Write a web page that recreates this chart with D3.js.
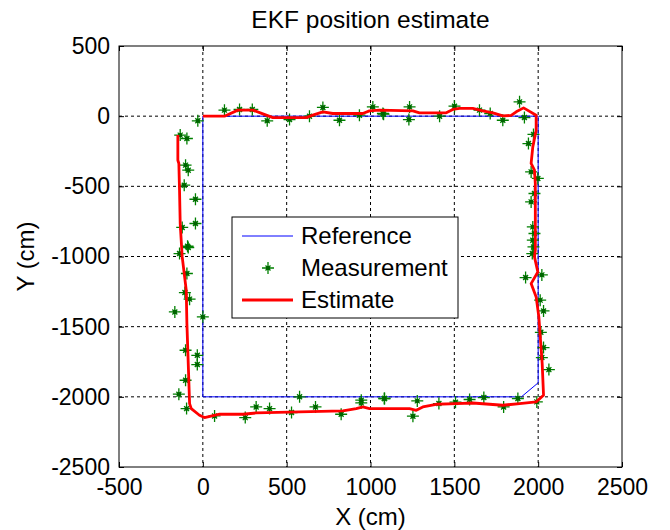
<!DOCTYPE html>
<html>
<head>
<meta charset="utf-8">
<script src="https://cdn.jsdelivr.net/npm/d3@7"></script>
<style>
  body { margin: 0; background: #fff; }
  text { font-family: Arial, "Liberation Sans", sans-serif; fill: #000; }
</style>
</head>
<body>
<script>
var width = 670, height = 530
var margin = {left: 119, right: 48, top: 46, bottom: 63}

var xTicks = [-500, 0, 500, 1000, 1500, 2000, 2500]
var yTicks = [500, 0, -500, -1000, -1500, -2000, -2500]

// reference track
var refX = [0, 2000, 2000, 1900, 0, 0]
var refY = [0, 0, -1900, -2000, -2000, 0]

// EKF estimate
var estX = [0, 129, 209, 298, 378, 418, 617, 656, 716, 775, 954, 994, 1054, 1253, 1292, 1452, 1491, 1531, 1610, 1670, 1730, 1789, 1839, 1869, 1913, 1988,
  1988, 1968, 1958, 1978, 1983, 1983, 1978, 1998, 1958, 1988, 2004, 2014, 2024, 2032,
  1988, 1889, 1789, 1710, 1610, 1511, 1392, 1312, 1273, 1233, 1054, 994, 954, 915, 835, 318, 239, 100, 10, -20, -69, -79,
  -85, -95, -99, -123, -129, -135, -139, -143, -149, -149]
var estY = [0, 0, 43, 43, 7, -10, -10, 7, 31, 19, 19, 38, 43, 38, 24, 24, 48, 55, 55, 38, 24, 2, 5, 31, 59, 7,
  -100, -219, -337, -385, -480, -955, -1003, -1110, -1193, -1288, -1430, -1597, -1763, -1989,
  -2036, -2048, -2060, -2053, -2044, -2048, -2053, -2072, -2096, -2084, -2084, -2084, -2072, -2084, -2100, -2115, -2124, -2124, -2148, -2131, -2084, -2048,
  -1834, -1478, -1240, -1003, -884, -765, -527, -337, -314, -135]

// measurements
var measX = [-30, 129, 219, 295, 384, 517, 636, 716, 815, 934, 1014, 1078,
  1074, 1233, 1229, 1412, 1501, 1650, 1714, 1789, 1889, 1918,
  1972, 1942, 1958, 1998, 1978, 1958, 1968, 1978, 1968, 1972, 1965, 2022, 1925, 2012, 2032, 2016, 2032, 2022, 2064,
  1992, 1879, 1794, 1676, 1591, 1507, 1408, 1253, 1279, 1084, 1082, 945, 945, 825, 672, 577, 529, 398, 318, 253, 70,
  -97, -143, -103, -33, -33, -103, 0, -167, -79, -107, -95, -139, -87,
  -91, -123, -44, -44, -111, -87, -103, -95, -135]
var measY = [-33, 43, 48, 48, -33, -24, 0, 62, -29, 7, 66, 14,
  19, 66, -24, 0, 71, 43, 19, -29, 102, -10,
  -130, -195, -397, -444, -551, -611, -789, -836, -884, -932, -979, -1131, -1150, -1311, -1388, -1540, -1649, -1720, -1806,
  -2036, -2012, -2072, -2005, -2019, -2038, -2048, -2138, -2029, -2012, -2012, -2043, -2024, -2124, -2072, -2000, -2112, -2084, -2072, -2148, -2136,
  -2084, -1981, -1882, -1770, -1704, -1668, -1430, -1395, -1304, -1257, -1121, -979, -936,
  -927, -793, -765, -592, -492, -385, -349, -159, -135]

var x = d3.scaleLinear().domain([-500, 2500]).range([margin.left, width - margin.right])
var y = d3.scaleLinear().domain([-2500, 500]).range([height - margin.bottom, margin.top])

var svg = d3.select("body").append("svg")
  .attr("width", width)
  .attr("height", height)

var x0 = x.range()[0], x1 = x.range()[1]
var y0 = y.range()[1], y1 = y.range()[0]
var fmt = function(d) { return String(d) }

// grid
var grid = svg.append("g")
grid.selectAll(".gx").data(xTicks.slice(1, -1)).enter().append("line")
  .attr("x1", function(d) { return x(d) }).attr("x2", function(d) { return x(d) })
  .attr("y1", y0).attr("y2", y1)
  .attr("stroke", "#000").attr("stroke-width", 1).attr("stroke-dasharray", "3,3")
grid.selectAll(".gy").data(yTicks.slice(1, -1)).enter().append("line")
  .attr("y1", function(d) { return y(d) }).attr("y2", function(d) { return y(d) })
  .attr("x1", x0).attr("x2", x1)
  .attr("stroke", "#000").attr("stroke-width", 1).attr("stroke-dasharray", "3,3")

// axes (ticks inward, box on all sides)
var tl = 5
svg.append("g").attr("transform", "translate(0," + y1 + ")")
  .call(d3.axisBottom(x).tickValues(xTicks).tickFormat(fmt).tickSizeInner(-tl).tickSizeOuter(0).tickPadding(12))
svg.append("g").attr("transform", "translate(0," + y0 + ")")
  .call(d3.axisTop(x).tickValues(xTicks).tickSizeInner(-tl).tickSizeOuter(0).tickFormat(""))
svg.append("g").attr("transform", "translate(" + x0 + ",0)")
  .call(d3.axisLeft(y).tickValues(yTicks).tickFormat(fmt).tickSizeInner(-tl).tickSizeOuter(0).tickPadding(9))
svg.append("g").attr("transform", "translate(" + x1 + ",0)")
  .call(d3.axisRight(y).tickValues(yTicks).tickSizeInner(-tl).tickSizeOuter(0).tickFormat(""))
svg.selectAll(".domain").remove()
svg.selectAll(".tick line").attr("stroke", "#000")
svg.selectAll(".tick text").style("font-size", "23px").style("font-family", "Arial, 'Liberation Sans', sans-serif").attr("fill", "#000")

svg.append("rect")
  .attr("x", x0).attr("y", y0).attr("width", x1 - x0).attr("height", y1 - y0)
  .attr("fill", "none").attr("stroke", "#000").attr("stroke-width", 1)

var line = d3.line().x(function(d) { return x(d[0]) }).y(function(d) { return y(d[1]) })

svg.append("path")
  .datum(refX.map(function(v, i) { return [v, refY[i]] }))
  .attr("d", line).attr("fill", "none").attr("stroke", "#0000ff").attr("stroke-width", 1)

var star = "M-6,0H6M0,-6V6M-2.5,-2.5L2.5,2.5M-2.5,2.5L2.5,-2.5"
var drawStar = function(g) {
  g.append("path").attr("d", star).attr("fill", "none").attr("stroke", "#008000").attr("stroke-width", 1.3)
  g.append("circle").attr("r", 2.2).attr("fill", "#006400")
}
svg.append("g").selectAll("g")
  .data(measX.map(function(v, i) { return [v, measY[i]] }))
  .enter().append("g")
  .attr("transform", function(d) { return "translate(" + x(d[0]) + "," + y(d[1]) + ")" })
  .each(function() { drawStar(d3.select(this)) })

svg.append("path")
  .datum(estX.map(function(v, i) { return [v, estY[i]] }))
  .attr("d", line).attr("fill", "none").attr("stroke", "#ff0000").attr("stroke-width", 2.8)
  .attr("stroke-linejoin", "round")

// legend
var lg = svg.append("g")
lg.append("rect").attr("x", 232).attr("y", 217).attr("width", 226).attr("height", 101)
  .attr("fill", "#fff").attr("stroke", "#000").attr("stroke-width", 1)
var items = [{name: "Reference", type: "ref"}, {name: "Measurement", type: "meas"}, {name: "Estimate", type: "est"}]
items.forEach(function(it, i) {
  var cy = 236 + i * 32
  if (it.type == "ref") lg.append("line").attr("x1", 242).attr("x2", 293).attr("y1", cy).attr("y2", cy).attr("stroke", "#0000ff").attr("stroke-width", 1)
  if (it.type == "est") lg.append("line").attr("x1", 242).attr("x2", 293).attr("y1", cy).attr("y2", cy).attr("stroke", "#ff0000").attr("stroke-width", 3)
  if (it.type == "meas") drawStar(lg.append("g").attr("transform", "translate(268," + cy + ")"))
  lg.append("text").attr("x", 301).attr("y", cy + 8).style("font-size", "24px").text(it.name)
})

// labels
svg.append("text").attr("x", (x0 + x1) / 2).attr("y", 28).attr("text-anchor", "middle")
  .style("font-size", "24.5px").text("EKF position estimate")
svg.append("text").attr("x", (x0 + x1) / 2).attr("y", 525).attr("text-anchor", "middle")
  .style("font-size", "24px").text("X (cm)")
svg.append("text").attr("transform", "translate(34," + ((y0 + y1) / 2) + ") rotate(-90)")
  .attr("text-anchor", "middle").style("font-size", "24px").text("Y (cm)")
</script>
</body>
</html>
